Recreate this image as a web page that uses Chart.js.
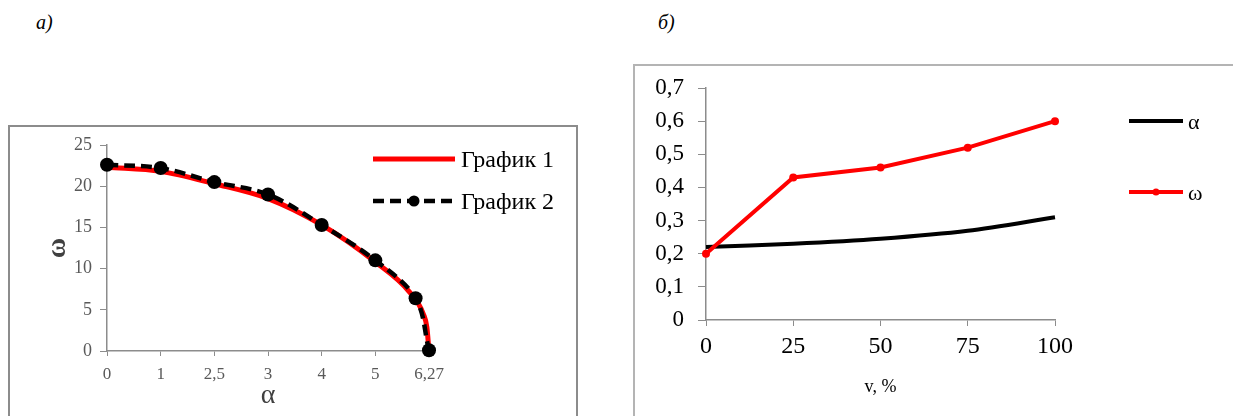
<!DOCTYPE html>
<html>
<head>
<meta charset="utf-8">
<script src="https://cdn.jsdelivr.net/npm/chart.js@4.4.1/dist/chart.umd.min.js"></script>
<style>
  html, body { margin: 0; padding: 0; background: #fff; width: 1233px; height: 416px; overflow: hidden; position: relative; }
  .cap { position: absolute; font: italic 20px "Liberation Serif", serif; color: #000; }
  .frame { position: absolute; box-sizing: border-box; }
  #frameA { left: 8px; top: 125px; width: 570px; height: 320px; border: 2px solid #8c8c8c; }
  #frameB { left: 633px; top: 64px; width: 640px; height: 400px; border: 2px solid #b4b4b4; }
  canvas { position: absolute; }
  #chartA { left: 0; top: 120px; }
  #chartB { left: 620px; top: 60px; }
</style>
</head>
<body>
<div class="cap" style="left:36px;top:11px">а)</div>
<div class="cap" style="left:658px;top:11px">б)</div>
<div class="frame" id="frameA"></div>
<div class="frame" id="frameB"></div>
<canvas id="chartA" width="590" height="296"></canvas>
<canvas id="chartB" width="613" height="356"></canvas>
<script>
// --- график а) ---
const alphaTicks = ['0', '1', '2,5', '3', '4', '5', '6,27'];
const g1Pos = [0, 1, 2, 3, 4, 5, 5.63, 5.9, 5.96, 6];
const g1Omega = [22.3, 21.8, 20.3, 18.5, 15.3, 10.8, 7.2, 4.4, 2.9, 0];
const g2Pos = [0, 1, 2, 3, 4, 5, 5.75, 6];
const g2Omega = [22.6, 22.2, 20.5, 19.0, 15.3, 11.0, 6.4, 0.1];

// --- график б) ---
const vLabels = ['0', '25', '50', '75', '100'];
const alphaV = [0.22, 0.23, 0.245, 0.269, 0.31];
const omegaV = [0.2, 0.43, 0.46, 0.52, 0.6];

const SERIF = '"Liberation Serif", "Times New Roman", serif';
const AXIS = '#8c8c8c';

// легенда рисуется прямо поверх области графика, как в Excel
const sampleLegend = {
    id: 'sampleLegend',
    afterDatasetsDraw(chart, args, opts) {
        if (!opts.rows) return;
        const ctx = chart.ctx;
        ctx.save();
        chart.data.datasets.forEach((ds, i) => {
            const y = opts.rows[i];
            ctx.strokeStyle = ds.borderColor;
            ctx.lineWidth = ds.borderWidth;
            ctx.setLineDash(ds.borderDash || []);
            ctx.beginPath();
            ctx.moveTo(opts.x0, y);
            ctx.lineTo(opts.x1, y);
            ctx.stroke();
            ctx.setLineDash([]);
            if (opts.marker[i]) {
                ctx.fillStyle = ds.borderColor;
                ctx.beginPath();
                ctx.arc((opts.x0 + opts.x1) / 2, y, opts.marker[i], 0, Math.PI * 2);
                ctx.fill();
            }
            ctx.fillStyle = '#000';
            ctx.font = opts.font;
            ctx.textBaseline = 'middle';
            ctx.fillText(ds.label, opts.x1 + opts.gap, y + opts.dy);
        });
        ctx.restore();
    }
};
Chart.register(sampleLegend);

const toXY = (xs, ys) => xs.map((x, i) => ({ x: x, y: ys[i] }));

new Chart(document.getElementById('chartA'), {
    type: 'line',
    data: {
        datasets: [{
            label: 'График 1',
            data: toXY(g1Pos, g1Omega),
            borderColor: '#ff0000',
            borderWidth: 5,
            pointRadius: 0,
            cubicInterpolationMode: 'monotone',
            clip: 10,
            order: 1
        }, {
            label: 'График 2',
            data: toXY(g2Pos, g2Omega),
            borderColor: '#000',
            backgroundColor: '#000',
            borderWidth: 4.5,
            borderDash: [11, 6],
            pointRadius: 7,
            pointBackgroundColor: '#000',
            pointBorderWidth: 0,
            tension: 0.35,
            clip: 10,
            order: 0
        }]
    },
    options: {
        responsive: false,
        animation: false,
        layout: { padding: { left: 0, top: 25, right: 161, bottom: 0 } },
        plugins: {
            legend: { display: false },
            tooltip: { enabled: false },
            sampleLegend: { rows: [39, 81], x0: 373, x1: 455, gap: 6, dy: 2, marker: [0, 5.5], font: '24px ' + SERIF }
        },
        scales: {
            x: {
                type: 'linear', min: 0, max: 6,
                afterFit: (s) => { s.height = 65; },
                grid: { drawOnChartArea: false, tickLength: 5, color: AXIS },
                border: { color: AXIS, width: 1.5 },
                ticks: { stepSize: 1, padding: 8, color: '#595959', font: { family: SERIF, size: 17 },
                         callback: (v) => alphaTicks[v] ?? '' },
                title: { display: true, text: 'α', color: '#404040', font: { family: SERIF, size: 28 }, padding: { top: 0, bottom: 4 } }
            },
            y: {
                min: 0, max: 25,
                afterFit: (s) => { s.width = 107; },
                grid: { drawOnChartArea: false, tickLength: 7, color: AXIS },
                border: { color: AXIS, width: 1.5 },
                ticks: { stepSize: 5, padding: 8, color: '#595959', font: { family: SERIF, size: 18 } },
                title: { display: true, text: 'ω', color: '#404040', font: { family: SERIF, size: 28, weight: 'bold' }, padding: { top: 41, bottom: 0 } }
            }
        }
    }
});

new Chart(document.getElementById('chartB'), {
    type: 'line',
    data: {
        labels: vLabels,
        datasets: [{
            label: 'α',
            data: alphaV,
            borderColor: '#000',
            borderWidth: 4,
            pointRadius: 0,
            tension: 0.3,
            order: 1
        }, {
            label: 'ω',
            data: omegaV,
            borderColor: '#ff0000',
            backgroundColor: '#ff0000',
            borderWidth: 4,
            pointRadius: 4,
            pointBackgroundColor: '#ff0000',
            pointBorderWidth: 0,
            tension: 0,
            clip: 8,
            order: 0
        }]
    },
    options: {
        responsive: false,
        animation: false,
        layout: { padding: { left: 0, top: 28, right: 178, bottom: 0 } },
        plugins: {
            legend: { display: false },
            tooltip: { enabled: false },
            sampleLegend: { rows: [61, 132], x0: 509, x1: 563, gap: 5, dy: 2, marker: [0, 3.5], font: '22px ' + SERIF }
        },
        scales: {
            x: {
                offset: false,
                afterFit: (s) => { s.height = 96; },
                grid: { drawOnChartArea: false, tickLength: 6, color: AXIS },
                border: { color: AXIS, width: 1.5 },
                ticks: { padding: 6, color: '#000', font: { family: SERIF, size: 24 } },
                title: { display: true, text: 'v, %', color: '#000', font: { family: SERIF, size: 18 }, padding: { top: 0, bottom: 18 } }
            },
            y: {
                min: 0, max: 0.7,
                afterFit: (s) => { s.width = 86; },
                grid: { drawOnChartArea: false, tickLength: 8, color: AXIS },
                border: { color: AXIS, width: 1.5 },
                ticks: { stepSize: 0.1, padding: 14, color: '#000', font: { family: SERIF, size: 23 },
                         callback: (v) => String(Math.round(v * 10) / 10).replace('.', ',') }
            }
        }
    }
});
</script>
</body>
</html>
